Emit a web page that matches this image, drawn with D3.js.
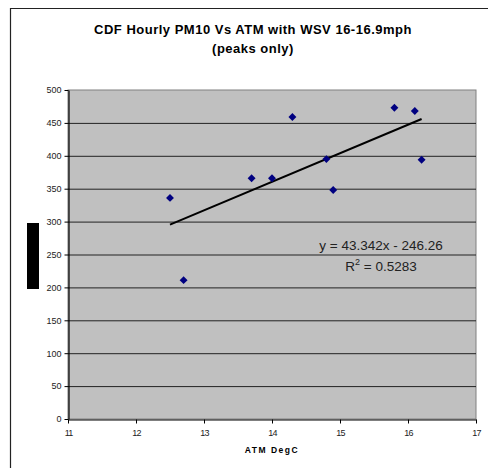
<!DOCTYPE html>
<html>
<head>
<meta charset="utf-8">
<script src="https://cdn.jsdelivr.net/npm/d3@7"></script>
<style>
  html, body { margin: 0; background: #fff; overflow: hidden; }
  svg { display: block; }
  text { font-family: "Liberation Sans", Arial, sans-serif; }
</style>
</head>
<body>
<div id="chart-container"></div>
<script>
// data
const atm = [12.5, 12.7, 13.7, 14.0, 14.3, 14.8, 14.9, 15.8, 16.1, 16.2];
const pm10 = [336, 211, 366, 366, 459, 395, 348, 473, 468, 394];
const xTicks = [11, 12, 13, 14, 15, 16, 17];
const yTicks = [0, 50, 100, 150, 200, 250, 300, 350, 400, 450, 500];
const slope = 43.342;
const intercept = -246.26;
const titleLines = ["CDF Hourly PM10 Vs ATM with WSV 16-16.9mph", "(peaks only)"];
const eqLabel = "y = 43.342x - 246.26";
const r2Value = "0.5283";

const createScatter = () => {
  const svgWidth = 488;
  const svgHeight = 468;

  const svg = d3.select("#chart-container")
    .append("svg")
    .attr("width", svgWidth)
    .attr("height", svgHeight);

  // outer chart border: only left and top edges are inside the picture
  svg.append("path")
    .attr("d", `M10.5,${svgHeight} V8.5 H${svgWidth}`)
    .attr("fill", "none")
    .attr("stroke", "#222")
    .attr("stroke-width", 1.2);

  const plot = { left: 68, right: 476, top: 90, bottom: 419 };

  const xScale = d3.scaleLinear().domain([11, 17]).range([plot.left, plot.right]);
  const yScale = d3.scaleLinear().domain([0, 500]).range([plot.bottom, plot.top]);

  // plot background
  svg.append("rect")
    .attr("x", plot.left).attr("y", plot.top)
    .attr("width", plot.right - plot.left)
    .attr("height", plot.bottom - plot.top)
    .attr("fill", "#c0c0c0")
    .attr("stroke", "#808080");

  // horizontal gridlines
  svg.append("g")
    .selectAll("line")
    .data(yTicks.filter(d => d > 0 && d < 500))
    .join("line")
    .attr("x1", plot.left).attr("x2", plot.right)
    .attr("y1", d => yScale(d) + 0.5).attr("y2", d => yScale(d) + 0.5)
    .attr("stroke", "#222")
    .attr("stroke-width", 1);

  // axes
  const yAxis = d3.axisLeft(yScale).tickValues(yTicks).tickSize(4).tickSizeOuter(0).tickPadding(3);
  const xAxis = d3.axisBottom(xScale).tickValues(xTicks).tickFormat(d3.format("d"))
    .tickSize(4).tickSizeOuter(0).tickPadding(6);

  const gy = svg.append("g")
    .attr("transform", `translate(${plot.left + 0.5},0)`)
    .call(yAxis);
  gy.selectAll("text").style("font-size", "9px").attr("fill", "#222");

  const gx = svg.append("g")
    .attr("transform", `translate(0,${plot.bottom + 0.5})`)
    .call(xAxis);
  gx.selectAll("text").style("font-size", "9px").attr("fill", "#222")
    .style("letter-spacing", "-0.8px");

  svg.selectAll(".domain").attr("stroke", "#000").attr("stroke-width", 1.2);
  svg.selectAll(".tick line").attr("stroke", "#000");

  // trendline over the data range
  const xr = d3.extent(atm);
  svg.append("line")
    .attr("x1", xScale(xr[0])).attr("y1", yScale(slope * xr[0] + intercept))
    .attr("x2", xScale(xr[1])).attr("y2", yScale(slope * xr[1] + intercept))
    .attr("stroke", "#000")
    .attr("stroke-width", 2);

  // diamond markers
  const diamond = d3.symbol().type(d3.symbolDiamond2).size(40);
  svg.append("g")
    .selectAll("path")
    .data(atm.map((d, i) => ({ x: d, y: pm10[i] })))
    .join("path")
    .attr("d", diamond)
    .attr("transform", d => `translate(${xScale(d.x)},${yScale(d.y)})`)
    .attr("fill", "#000080");

  // title
  titleLines.forEach((t, i) => {
    svg.append("text")
      .attr("x", 253).attr("y", 34 + i * 19)
      .attr("text-anchor", "middle")
      .style("font-size", "13px")
      .style("font-weight", "bold")
      .style("letter-spacing", "0.5px")
      .text(t);
  });

  // x axis title
  svg.append("text")
    .attr("x", 272).attr("y", 453)
    .attr("text-anchor", "middle")
    .style("font-size", "8.5px")
    .style("font-weight", "bold")
    .style("letter-spacing", "1.5px")
    .text("ATM DegC");

  // redacted y axis title block
  svg.append("rect")
    .attr("x", 27).attr("y", 223)
    .attr("width", 12).attr("height", 66)
    .attr("fill", "#000");

  // trendline equation
  svg.append("text")
    .attr("x", 381).attr("y", 250)
    .attr("text-anchor", "middle")
    .style("font-size", "13.5px")
    .attr("fill", "#222")
    .text(eqLabel);

  const r2 = svg.append("text")
    .attr("x", 381).attr("y", 271)
    .attr("text-anchor", "middle")
    .style("font-size", "13.5px")
    .attr("fill", "#222");
  r2.append("tspan").text("R");
  r2.append("tspan").attr("dy", -6).style("font-size", "9px").text("2");
  r2.append("tspan").attr("dy", 6).text(" = " + r2Value);
};

createScatter();
</script>
</body>
</html>
